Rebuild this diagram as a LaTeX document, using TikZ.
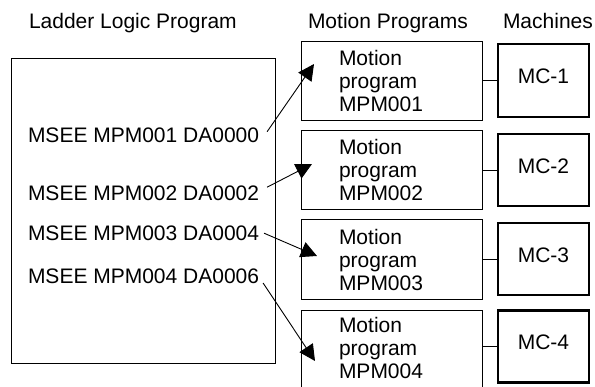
\documentclass[tikz,border=0pt]{standalone}
\usepackage{fontspec}
\setmainfont{Liberation Sans}
\usetikzlibrary{arrows.meta}
\begin{document}
\begin{tikzpicture}[x=1pt,y=-1pt,
  every node/.style={font=\fontsize{21}{23}\selectfont, inner sep=0pt, outer sep=0pt},
  lbl/.style={anchor=base west},
  mclbl/.style={anchor=base},
  frame/.style={draw, line width=0.8pt, rectangle, anchor=north west},
  mpbox/.style={frame, minimum width=181pt},
  mcbox/.style={draw, line width=2.2pt, rectangle, anchor=north west, minimum width=91pt},
  link/.style={line width=0.9pt},
  ptr/.style={line width=0.9pt, -{Triangle[length=16pt,width=16pt]}}]
\useasboundingbox (0,0) rectangle (595,386);
\clip (0,0) rectangle (595,386);

% headings
\node[lbl] (h1) at (29,28.5) {Ladder Logic Program};
\node[lbl] (h2) at (308,28.5) {Motion Programs};
\node[lbl] (h3) at (503,28.5) {Machines};

% ladder program box
\node[frame, minimum width=264pt, minimum height=305pt] (ladder) at (11,58) {};
\node[lbl] (s1) at (28,142.7) {MSEE MPM001 DA0000};
\node[lbl] (s2) at (28,200.7) {MSEE MPM002 DA0002};
\node[lbl] (s3) at (28,240.7) {MSEE MPM003 DA0004};
\node[lbl] (s4) at (28,283) {MSEE MPM004 DA0006};

% motion program boxes
\node[mpbox, minimum height=79pt] (mp1) at (301,41) {};
\node[mpbox, minimum height=79pt] (mp2) at (301,130) {};
\node[mpbox, minimum height=80pt] (mp3) at (301,219) {};
\node[mpbox, minimum height=90pt] (mp4) at (301,310) {};

\node[lbl] (m1a) at (339,65) {Motion};
\node[lbl] (m1b) at (339,88) {program};
\node[lbl] (m1c) at (339,111.5) {MPM001};
\node[lbl] (m2a) at (339,154) {Motion};
\node[lbl] (m2b) at (339,177) {program};
\node[lbl] (m2c) at (339,200.5) {MPM002};
\node[lbl] (m3a) at (339,244) {Motion};
\node[lbl] (m3b) at (339,267) {program};
\node[lbl] (m3c) at (339,290.5) {MPM003};
\node[lbl] (m4a) at (339,332) {Motion};
\node[lbl] (m4b) at (339,355) {program};
\node[lbl] (m4c) at (339,378) {MPM004};

% machine boxes
\node[mcbox, minimum height=73pt] (mc1) at (498,44) {};
\node[mcbox, minimum height=72pt] (mc2) at (498,134) {};
\node[mcbox, minimum height=72pt] (mc3) at (498,223) {};
\node[mcbox, minimum height=72pt] (mc4) at (498,310.5) {};
\node[mclbl] (c1) at (543.5,83.5) {MC-1};
\node[mclbl] (c2) at (543.5,173) {MC-2};
\node[mclbl] (c3) at (543.5,262) {MC-3};
\node[mclbl] (c4) at (543.5,349.5) {MC-4};

% connectors program -> machine
\draw[link] (mp1.east |- mc1.west) -- (mc1.west);
\draw[link] (mp2.east |- mc2.west) -- (mc2.west);
\draw[link] (mp3.east |- mc3.west) -- (mc3.west);
\draw[link] (mp4.east |- mc4.west) -- (mc4.west);

% arrow tips
\coordinate (t1) at (314,64);
\coordinate (t2) at (312,164);
\coordinate (t3) at (317,256);
\coordinate (t4) at (315,361);

\draw[ptr] ([xshift=8pt,yshift=11pt]s1.base east) -- (t1);
\draw[ptr] ([xshift=8pt,yshift=13.5pt]s2.base east) -- (t2);
\draw[ptr] ([xshift=5pt,yshift=7.5pt]s3.base east) -- (t3);
\draw[ptr] ([xshift=4pt,yshift=0pt]s4.base east) -- (t4);
\end{tikzpicture}
\end{document}
